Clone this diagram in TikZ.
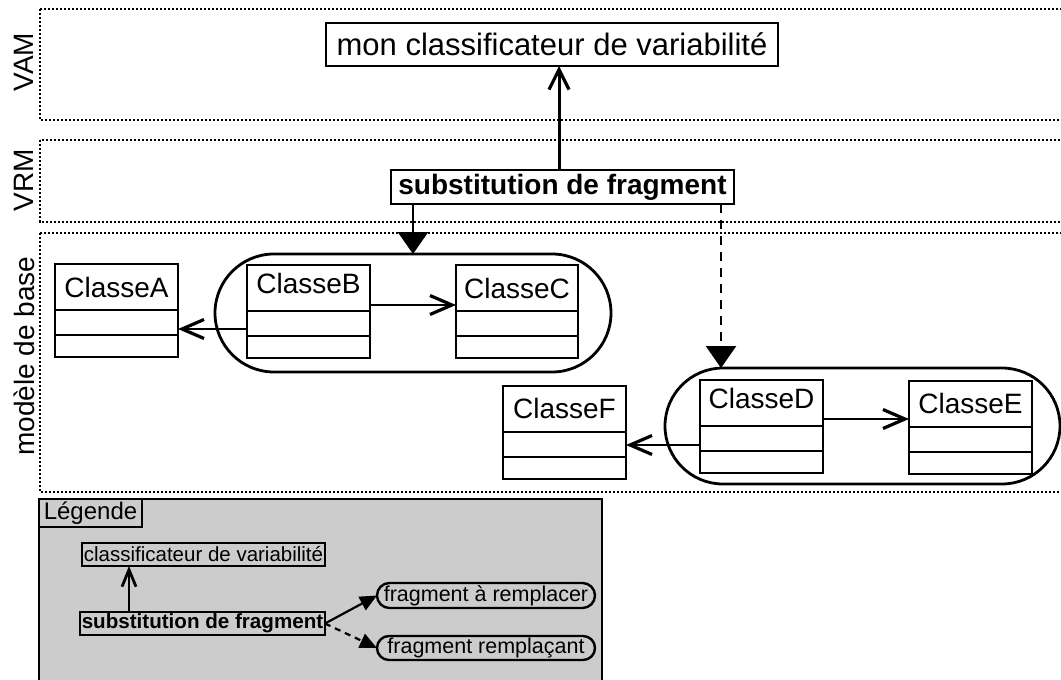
\documentclass[tikz,border=0pt]{standalone}
\usepackage{fontspec}
\setmainfont{Liberation Sans}
\usetikzlibrary{arrows.meta,shapes.misc}
\definecolor{leggray}{RGB}{204,204,204}
\tikzset{
  lane/.style={draw, line width=2.8pt, dash pattern=on 2.4pt off 1.6pt},
  lanelabel/.style={rotate=90, font=\fontsize{28}{32}\selectfont, inner sep=0},
  box/.style={draw, line width=2.9pt, inner sep=0, outer sep=0},
  cls/.style={box, minimum width=123pt, minimum height=93pt},
  clsname/.style={font=\fontsize{28}{32}\selectfont, inner sep=0},
  divider/.style={line width=2.9pt},
  pill/.style={draw, rounded rectangle, line width=2.8pt, inner sep=0, outer sep=0},
  assoc/.style={line width=2.2pt, -{Straight Barb[length=22pt,width=19pt,line width=3.2pt]}},
  bigopen/.style={line width=3pt, -{Straight Barb[length=20pt,width=20pt,line width=3.2pt]}},
  smallopen/.style={line width=2.2pt, -{Straight Barb[length=17pt,width=14pt,line width=2.8pt]}},
  filltip/.style={line width=2.8pt, -{Triangle[length=22pt,width=30pt]}},
  filltipdash/.style={filltip, dash pattern=on 9pt off 7pt},
  smallfill/.style={line width=2.2pt, -{Triangle[length=17pt,width=15pt]}},
  smallfilldash/.style={smallfill, dash pattern=on 6pt off 5pt},
}
\newcommand\umlclass[6]{%
  \node[cls, anchor=north west, minimum width=#6pt] (#1) at (#2,#3) {};
  \node[clsname] (#1-n) at ([yshift=-#5pt]#1.north) {#4};
  \draw[divider] ([yshift=-46pt]#1.north west) -- ([yshift=-46pt]#1.north east);
  \draw[divider] ([yshift=-71pt]#1.north west) -- ([yshift=-71pt]#1.north east);
}
\begin{document}
\begin{tikzpicture}[x=1pt,y=-1pt]
\useasboundingbox (0,0) rectangle (1061,680);
\clip (0,0) rectangle (1061,680);

% lanes
\draw[lane] (40,9) rectangle (1100,120);
\draw[lane] (40,140) rectangle (1100,222);
\draw[lane] (40,233) rectangle (1100,492);
\node[lanelabel] (lvam) at (24,62) {VAM};
\node[lanelabel] (lvrm) at (24,180) {VRM};
\node[lanelabel] (lmb) at (24,356) {modèle de base};

% top nodes
\node[box, minimum width=452pt, minimum height=43pt, font=\fontsize{31}{36}\selectfont] (mon) at (552,44.5) {mon classificateur de variabilité};
\node[box, minimum width=343pt, minimum height=34pt, font=\fontsize{28}{32}\selectfont\bfseries] (sub) at (562.5,187) {substitution de fragment};

% groups
\node[pill, minimum width=396pt, minimum height=118pt] (p1) at (413,313) {};
\node[pill, minimum width=395pt, minimum height=116pt] (p2) at (862.5,426) {};

% classes
\umlclass{A}{55}{264}{ClasseA}{23}{123}
\umlclass{B}{247}{265}{ClasseB}{18}{123}
\umlclass{C}{456}{265}{ClasseC}{23}{122}
\umlclass{F}{503}{386}{ClasseF}{22}{123}
\umlclass{D}{700}{380}{ClasseD}{18}{123}
\umlclass{E}{909}{381}{ClasseE}{22}{123}

% connectors
\draw[bigopen] ([xshift=-3.5pt]sub.north) -- ([xshift=-3.5pt]sub.north |- mon.south);
\draw[filltip] ([xshift=-149.5pt]sub.south) -- ([xshift=-149.5pt]sub.south |- p1.north);
\draw[filltipdash] ([xshift=158.5pt]sub.south) -- ([xshift=158.5pt]sub.south |- p2.north);
\draw[assoc] ([yshift=-17.5pt]B.west) -- ([yshift=-17.5pt]B.west -| A.east);
\draw[assoc] ([yshift=6.5pt]B.east) -- ([yshift=6.5pt]B.east -| C.west);
\draw[assoc] ([yshift=-18.5pt]D.west) -- ([yshift=-18.5pt]D.west -| F.east);
\draw[assoc] ([yshift=7.5pt]D.east) -- ([yshift=7.5pt]D.east -| E.west);

% legend
\draw[line width=2.6pt, fill=leggray] (39,499) rectangle (602,690);
\node[box, line width=2.2pt, minimum width=103pt, minimum height=28pt, font=\fontsize{24}{28}\selectfont] (leg) at (90.5,513) {Légende};
\node[box, line width=2.6pt, minimum width=243pt, minimum height=23pt, font=\fontsize{20.5}{24}\selectfont] (lcls) at (203.5,554.5) {classificateur de variabilité};
\node[box, line width=2.6pt, minimum width=245pt, minimum height=23pt, font=\fontsize{20.6}{24}\selectfont\bfseries] (lsub) at (202.5,623.5) {substitution de fragment};
\node[pill, line width=2.4pt, minimum width=218pt, minimum height=25pt, font=\fontsize{21.5}{25}\selectfont] (lfr1) at (486,595.5) {fragment à remplacer};
\node[pill, line width=2.4pt, minimum width=218pt, minimum height=24pt, font=\fontsize{21.5}{25}\selectfont] (lfr2) at (486,648) {fragment remplaçant};
\draw[smallopen] ([xshift=-73.5pt]lsub.north) -- ([xshift=-73.5pt]lsub.north |- lcls.south);
\draw[smallfill] (lsub.east) -- (lfr1.west);
\draw[smallfilldash] (lsub.east) -- (lfr2.west);
\end{tikzpicture}
\end{document}
